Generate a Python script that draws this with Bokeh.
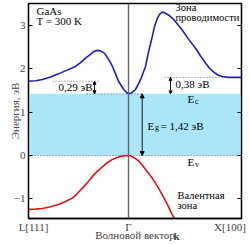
from bokeh.plotting import figure
from bokeh.models import (Range1d, FixedTicker, LinearAxis, Label, Arrow, NormalHead,
                          BoxAnnotation, Span)
from bokeh.embed import file_html
from bokeh.resources import INLINE

# ---- data ----
k_cb = [-1.0, -0.93, -0.86, -0.78, -0.70, -0.62, -0.53, -0.48, -0.43, -0.38, -0.35, -0.32,
        -0.28, -0.25, -0.23, -0.20, -0.16, -0.13, -0.10, -0.07, -0.047, -0.02, 0.0, 0.03,
        0.07, 0.10, 0.13, 0.17, 0.20, 0.237, 0.26, 0.287, 0.31, 0.337, 0.36, 0.403, 0.45,
        0.537, 0.60, 0.67, 0.72, 0.77, 0.81, 0.853, 0.89, 0.937, 1.0, 1.13]
E_cb = [1.71, 1.72, 1.75, 1.81, 1.88, 1.96, 2.05, 2.14, 2.24, 2.33, 2.39, 2.42,
        2.41, 2.37, 2.32, 2.22, 2.05, 1.88, 1.71, 1.60, 1.52, 1.45, 1.42, 1.44,
        1.52, 1.65, 1.80, 2.05, 2.38, 2.73, 2.97, 3.15, 3.25, 3.30, 3.29, 3.23, 3.14,
        2.89, 2.68, 2.47, 2.29, 2.13, 2.01, 1.92, 1.86, 1.82, 1.80, 1.80]
k_vb = [-1.0, -0.93, -0.86, -0.78, -0.70, -0.63, -0.56, -0.51, -0.46, -0.41, -0.36, -0.31,
        -0.26, -0.21, -0.16, -0.12, -0.08, -0.04, 0.0, 0.02, 0.037, 0.07, 0.10, 0.137,
        0.18, 0.237, 0.29, 0.337, 0.39, 0.437, 0.48]
E_vb = [-1.24, -1.235, -1.22, -1.18, -1.13, -1.06, -0.98, -0.87, -0.75, -0.62, -0.48, -0.36,
        -0.26, -0.16, -0.09, -0.05, -0.02, -0.005, 0.0, -0.005, -0.03, -0.07, -0.12, -0.22,
        -0.35, -0.52, -0.71, -0.90, -1.13, -1.36, -1.53]

E_g = 1.42
E_L = 1.71
E_X = 1.80
k_L, k_G, k_X = -1.0, 0.0, 1.13
y_ticks = [-1, 0, 1, 2, 3]
x_tick_pos = [-0.95, 0.0, 1.015]
x_tick_labels = ["L[111]", "Γ", "X[100]"]
x_title = "Волновой вектор"
x_title_bold = "k"
y_title = "Энергия, эВ"

FONT = "Liberation Serif"
BLUE = "#1f1fb4"
RED = "#e0141a"

p = figure(width=250, height=244, output_backend="svg", toolbar_location=None,
           x_range=Range1d(k_L, k_X), y_range=Range1d(-1.45, 3.5),
           min_border_left=28, min_border_right=9, min_border_top=3, min_border_bottom=23)
p.grid.visible = False
p.outline_line_color = "black"
p.outline_line_width = 1.3
p.background_fill_color = "white"

# band gap fill
p.add_layout(BoxAnnotation(bottom=0, top=E_g, fill_color="#aae6f7", fill_alpha=1.0,
                           line_color=None, level="underlay"))

# Gamma line
p.add_layout(Span(location=k_G, dimension="height", line_color="#666666", line_width=1.4))

# dotted reference lines
dot = dict(line_color="#555555", line_width=0.9, line_dash="1 2")
p.segment(x0=[k_L, -0.76, -0.42, 0.36], y0=[0, E_L, E_g, E_X],
          x1=[k_X, -0.29, 0.15, 0.94], y1=[0, E_L, E_g, E_X], **dot)

# bands
p.line(k_cb, E_cb, line_color=BLUE, line_width=1.6)
p.line(k_vb, E_vb, line_color=RED, line_width=1.6)

# arrows
def darrow(x, y0, y1, size=4):
    p.add_layout(Arrow(start=NormalHead(size=size, fill_color="black", line_color="black"),
                       end=NormalHead(size=size, fill_color="black", line_color="black"),
                       x_start=x, y_start=y0, x_end=x, y_end=y1,
                       line_color="black", line_width=0.9))

darrow(-0.34, E_g, E_L, 3)
darrow(0.42, E_g, E_X, 3)
darrow(0.137, 0, E_g, 4)

def lab(x, y, t, size="11px", align="left", base="middle", style="normal"):
    p.add_layout(Label(x=x, y=y, text=t, text_font=FONT, text_font_size=size,
                       text_align=align, text_baseline=base, text_font_style=style,
                       text_color="black"))

lab(-0.92, 3.33, "GaAs")
lab(-0.92, 3.10, "T = 300 K")
lab(0.47, 3.40, "Зона", "10.5px")
lab(0.47, 3.18, "проводимости", "10.5px")
lab(0.49, -0.93, "Валентная", "10.5px")
lab(0.49, -1.14, "зона", "10.5px")
lab(-0.36, 1.58, "0,29 эВ", align="right")
lab(0.47, 1.64, "0,38 эВ")
# E_c
lab(0.59, 1.30, "E")
lab(0.665, 1.25, "c", "8px")
# E_v
lab(0.59, -0.15, "E")
lab(0.665, -0.20, "v", "8px")
# E_g = 1,42 эВ
lab(0.19, 0.69, "E")
lab(0.265, 0.64, "g", "8px")
lab(0.32, 0.69, "= 1,42 эВ")

# y axes
p.yaxis.ticker = FixedTicker(ticks=y_ticks)
p.yaxis.major_tick_in = 4
p.yaxis.major_tick_out = 0
p.yaxis.minor_tick_line_color = None
p.yaxis.major_label_text_font = FONT
p.yaxis.major_label_text_font_size = "11px"
p.yaxis.major_label_standoff = 3
p.yaxis.axis_line_width = 1.3
p.yaxis.axis_label = y_title
p.yaxis.axis_label_text_font = FONT
p.yaxis.axis_label_text_font_style = "normal"
p.yaxis.axis_label_text_font_size = "11px"
p.yaxis.axis_label_standoff = -10

ra = LinearAxis(ticker=FixedTicker(ticks=y_ticks), major_tick_in=4, major_tick_out=0,
                minor_tick_line_color=None, major_label_overrides={t: "" for t in y_ticks},
                major_label_standoff=0, axis_line_width=1.3)
p.add_layout(ra, "right")

# x axis: point labels and title
p.xaxis.ticker = FixedTicker(ticks=x_tick_pos)
p.xaxis.major_label_overrides = {x_tick_pos[i]: x_tick_labels[i] for i in range(3)}
p.xaxis.major_tick_line_color = None
p.xaxis.minor_tick_line_color = None
p.xaxis.major_label_text_font = FONT
p.xaxis.major_label_text_font_size = "11px"
p.xaxis.major_label_standoff = -4
p.xaxis.axis_line_width = 1.3
p.xaxis.axis_label = x_title
p.xaxis.axis_label_text_font = FONT
p.xaxis.axis_label_text_font_style = "normal"
p.xaxis.axis_label_text_font_size = "11px"
p.xaxis.axis_label_standoff = -7

# bold "k" of the x title, lifted into the title's row
kx = LinearAxis(ticker=FixedTicker(ticks=[0.48]), major_label_overrides={0.48: x_title_bold},
                axis_line_color=None, major_tick_line_color=None, minor_tick_line_color=None,
                major_label_text_font=FONT, major_label_text_font_size="11px",
                major_label_text_font_style="bold", major_label_standoff=-20)
p.add_layout(kx, "below")

open("out.html", "w").write(file_html(p, INLINE))
